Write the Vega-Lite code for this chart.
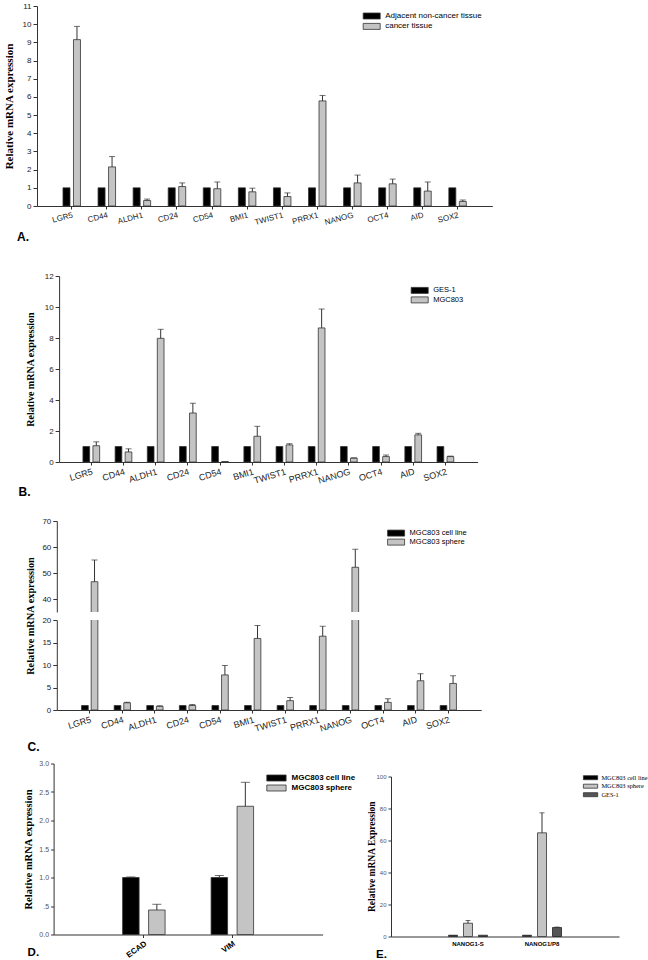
{
  "$schema": "https://vega.github.io/schema/vega-lite/v6.json",
  "autosize": {"type": "pad"},
  "padding": {"left": 3, "top": 2, "right": 0, "bottom": 0},
  "config": {
    "view": {"stroke": null},
    "font": "Liberation Sans",
    "axis": {"grid": false, "domainColor": "#333", "tickColor": "#333", "labelColor": "#222", "labelFont": "Liberation Sans", "labelFontSize": 8, "titleFont": "Liberation Serif", "titleFontWeight": "bold", "titleColor": "#000", "tickSize": 4, "labelPadding": 2, "labelFlush": false, "labelOverlap": false, "labelBound": false},
    "legend": {"labelFont": "Liberation Sans", "labelColor": "#000", "padding": 0, "symbolOpacity": 1},
    "title": {"font": "Liberation Sans", "fontWeight": "bold", "fontSize": 12, "orient": "bottom", "anchor": "start", "frame": "bounds", "color": "#000"}
  },
  "datasets": {
    "dA": [
      {"gene": "LGR5", "group": "Adjacent non-cancer tissue", "value": 1}, {"gene": "LGR5", "group": "cancer tissue", "value": 9.15, "upper": 9.88},
      {"gene": "CD44", "group": "Adjacent non-cancer tissue", "value": 1}, {"gene": "CD44", "group": "cancer tissue", "value": 2.15, "upper": 2.72},
      {"gene": "ALDH1", "group": "Adjacent non-cancer tissue", "value": 1}, {"gene": "ALDH1", "group": "cancer tissue", "value": 0.3, "upper": 0.38},
      {"gene": "CD24", "group": "Adjacent non-cancer tissue", "value": 1}, {"gene": "CD24", "group": "cancer tissue", "value": 1.07, "upper": 1.27},
      {"gene": "CD54", "group": "Adjacent non-cancer tissue", "value": 1}, {"gene": "CD54", "group": "cancer tissue", "value": 0.95, "upper": 1.32},
      {"gene": "BMI1", "group": "Adjacent non-cancer tissue", "value": 1}, {"gene": "BMI1", "group": "cancer tissue", "value": 0.78, "upper": 0.98},
      {"gene": "TWIST1", "group": "Adjacent non-cancer tissue", "value": 1}, {"gene": "TWIST1", "group": "cancer tissue", "value": 0.52, "upper": 0.72},
      {"gene": "PRRX1", "group": "Adjacent non-cancer tissue", "value": 1}, {"gene": "PRRX1", "group": "cancer tissue", "value": 5.78, "upper": 6.08},
      {"gene": "NANOG", "group": "Adjacent non-cancer tissue", "value": 1}, {"gene": "NANOG", "group": "cancer tissue", "value": 1.27, "upper": 1.7},
      {"gene": "OCT4", "group": "Adjacent non-cancer tissue", "value": 1}, {"gene": "OCT4", "group": "cancer tissue", "value": 1.22, "upper": 1.48},
      {"gene": "AID", "group": "Adjacent non-cancer tissue", "value": 1}, {"gene": "AID", "group": "cancer tissue", "value": 0.82, "upper": 1.32},
      {"gene": "SOX2", "group": "Adjacent non-cancer tissue", "value": 1}, {"gene": "SOX2", "group": "cancer tissue", "value": 0.25, "upper": 0.33}
    ],
    "dB": [
      {"gene": "LGR5", "group": "GES-1", "value": 1}, {"gene": "LGR5", "group": "MGC803", "value": 1.05, "upper": 1.3},
      {"gene": "CD44", "group": "GES-1", "value": 1}, {"gene": "CD44", "group": "MGC803", "value": 0.65, "upper": 0.85},
      {"gene": "ALDH1", "group": "GES-1", "value": 1}, {"gene": "ALDH1", "group": "MGC803", "value": 7.98, "upper": 8.56},
      {"gene": "CD24", "group": "GES-1", "value": 1}, {"gene": "CD24", "group": "MGC803", "value": 3.16, "upper": 3.79},
      {"gene": "CD54", "group": "GES-1", "value": 1}, {"gene": "CD54", "group": "MGC803", "value": 0.03},
      {"gene": "BMI1", "group": "GES-1", "value": 1}, {"gene": "BMI1", "group": "MGC803", "value": 1.66, "upper": 2.3},
      {"gene": "TWIST1", "group": "GES-1", "value": 1}, {"gene": "TWIST1", "group": "MGC803", "value": 1.1, "upper": 1.18},
      {"gene": "PRRX1", "group": "GES-1", "value": 1}, {"gene": "PRRX1", "group": "MGC803", "value": 8.65, "upper": 9.87},
      {"gene": "NANOG", "group": "GES-1", "value": 1}, {"gene": "NANOG", "group": "MGC803", "value": 0.25, "upper": 0.27},
      {"gene": "OCT4", "group": "GES-1", "value": 1}, {"gene": "OCT4", "group": "MGC803", "value": 0.35, "upper": 0.45},
      {"gene": "AID", "group": "GES-1", "value": 1}, {"gene": "AID", "group": "MGC803", "value": 1.75, "upper": 1.85},
      {"gene": "SOX2", "group": "GES-1", "value": 1}, {"gene": "SOX2", "group": "MGC803", "value": 0.35, "upper": 0.38}
    ],
    "dC": [
      {"gene": "LGR5", "group": "MGC803 cell line", "value": 1}, {"gene": "LGR5", "group": "MGC803 sphere", "value": 46.65, "upper": 55.0},
      {"gene": "CD44", "group": "MGC803 cell line", "value": 1}, {"gene": "CD44", "group": "MGC803 sphere", "value": 1.6, "upper": 1.75},
      {"gene": "ALDH1", "group": "MGC803 cell line", "value": 1}, {"gene": "ALDH1", "group": "MGC803 sphere", "value": 0.8, "upper": 0.95},
      {"gene": "CD24", "group": "MGC803 cell line", "value": 1}, {"gene": "CD24", "group": "MGC803 sphere", "value": 1.0, "upper": 1.2},
      {"gene": "CD54", "group": "MGC803 cell line", "value": 1}, {"gene": "CD54", "group": "MGC803 sphere", "value": 7.8, "upper": 9.9},
      {"gene": "BMI1", "group": "MGC803 cell line", "value": 1}, {"gene": "BMI1", "group": "MGC803 sphere", "value": 15.9, "upper": 18.8},
      {"gene": "TWIST1", "group": "MGC803 cell line", "value": 1}, {"gene": "TWIST1", "group": "MGC803 sphere", "value": 2.07, "upper": 2.8},
      {"gene": "PRRX1", "group": "MGC803 cell line", "value": 1}, {"gene": "PRRX1", "group": "MGC803 sphere", "value": 16.4, "upper": 18.6},
      {"gene": "NANOG", "group": "MGC803 cell line", "value": 1}, {"gene": "NANOG", "group": "MGC803 sphere", "value": 52.2, "upper": 59.1},
      {"gene": "OCT4", "group": "MGC803 cell line", "value": 1}, {"gene": "OCT4", "group": "MGC803 sphere", "value": 1.7, "upper": 2.5},
      {"gene": "AID", "group": "MGC803 cell line", "value": 1}, {"gene": "AID", "group": "MGC803 sphere", "value": 6.5, "upper": 8.07},
      {"gene": "SOX2", "group": "MGC803 cell line", "value": 1}, {"gene": "SOX2", "group": "MGC803 sphere", "value": 5.9, "upper": 7.6}
    ],
    "dD": [
      {"gene": "ECAD", "group": "MGC803 cell line", "value": 1.0, "upper": 1.01}, {"gene": "ECAD", "group": "MGC803 sphere", "value": 0.43, "upper": 0.53},
      {"gene": "VIM", "group": "MGC803 cell line", "value": 1.0, "upper": 1.035}, {"gene": "VIM", "group": "MGC803 sphere", "value": 2.25, "upper": 2.67}
    ],
    "dE": [
      {"gene": "NANOG1-S", "group": "MGC803 cell line", "value": 0.8}, {"gene": "NANOG1-S", "group": "MGC803 sphere", "value": 8.3, "upper": 10.0}, {"gene": "NANOG1-S", "group": "GES-1", "value": 0.8},
      {"gene": "NANOG1/P8", "group": "MGC803 cell line", "value": 0.8}, {"gene": "NANOG1/P8", "group": "MGC803 sphere", "value": 64.8, "upper": 77.3}, {"gene": "NANOG1/P8", "group": "GES-1", "value": 5.6, "upper": 5.9}
    ]
  },
  "resolve": {"scale": {"color": "independent"}, "legend": {"color": "independent"}},
  "spacing": 28,
  "vconcat": [
    {
      "width": 455.3, "height": 200,
      "data": {"name": "dA"},
      "title": {"text": "A.", "offset": 6, "dx": 14},
      "encoding": {
        "x": {"field": "gene", "type": "nominal", "sort": null, "scale": {"type": "band", "paddingInner": 0, "paddingOuter": 0.49}, "axis": {"title": null, "labelAngle": -15, "labelFontSize": 8, "tickSize": 3}},
        "y": {"field": "value", "type": "quantitative", "scale": {"domain": [0, 11]}, "axis": {"values": [0,1,2,3,4,5,6,7,8,9,10,11], "title": "Relative mRNA expression", "titleFontSize": 11, "titleX": -28, "titleY": 100, "titleAngle": 270, "titleAlign": "center", "titleBaseline": "middle", "minExtent": 33.4, "maxExtent": 33.4}}
      },
      "layer": [
        {"transform": [{"filter": "datum.group == 'Adjacent non-cancer tissue'"}], "mark": {"type": "bar", "width": 7, "xOffset": -5.25, "stroke": "#333", "strokeWidth": 0.8},
         "encoding": {"color": {"field": "group", "type": "nominal", "scale": {"domain": ["Adjacent non-cancer tissue", "cancer tissue"], "range": ["#000000", "#c4c4c4"]}, "legend": {"title": null, "orient": "none", "legendX": 330.7, "legendY": 6, "symbolType": "M-2.5,-0.882H2.5V0.882H-2.5Z", "symbolSize": 46.24, "labelOffset": 9.5, "labelFontSize": 8, "rowPadding": 0.4, "symbolStrokeColor": "#333", "symbolStrokeWidth": 0.8}}}},
        {"transform": [{"filter": "datum.group == 'cancer tissue'"}], "mark": {"type": "bar", "width": 7, "xOffset": 5.25, "stroke": "#333", "strokeWidth": 0.8},
         "encoding": {"color": {"field": "group", "type": "nominal", "scale": {"domain": ["Adjacent non-cancer tissue", "cancer tissue"], "range": ["#000000", "#c4c4c4"]}, "legend": {"title": null, "orient": "none", "legendX": 330.7, "legendY": 6, "symbolType": "M-2.5,-0.882H2.5V0.882H-2.5Z", "symbolSize": 46.24, "labelOffset": 9.5, "labelFontSize": 8, "rowPadding": 0.4, "symbolStrokeColor": "#333", "symbolStrokeWidth": 0.8}}}},
        {"transform": [{"filter": "datum.group == 'cancer tissue' && isValid(datum.upper)"}], "mark": {"type": "rule", "xOffset": 5.25, "color": "#333"}, "encoding": {"y2": {"field": "upper"}}},
        {"transform": [{"filter": "datum.group == 'cancer tissue' && isValid(datum.upper)"}], "mark": {"type": "tick", "xOffset": 5.25, "color": "#333", "thickness": 1, "size": 6}, "encoding": {"y": {"field": "upper", "type": "quantitative", "axis": {"values": [0,1,2,3,4,5,6,7,8,9,10,11], "title": "Relative mRNA expression", "titleFontSize": 11, "titleX": -28, "titleY": 100, "titleAngle": 270, "titleAlign": "center", "titleBaseline": "middle", "minExtent": 33.4, "maxExtent": 33.4}}}}
      ]
    },
    {
      "resolve": {"scale": {"color": "independent"}, "legend": {"color": "independent"}},
      "spacing": 18,
      "vconcat": [
        {
          "width": 440.6, "height": 186,
          "data": {"name": "dB"},
          "title": {"text": "B.", "offset": 2, "dx": 15},
          "encoding": {
            "x": {"field": "gene", "type": "nominal", "sort": null, "scale": {"type": "band", "range": [22.1, 440.6], "paddingInner": 0, "paddingOuter": 0.5}, "axis": {"title": null, "labelAngle": -17, "labelFontSize": 9, "tickSize": 3}},
            "y": {"field": "value", "type": "quantitative", "scale": {"domain": [0, 12]}, "axis": {"offset": -22.1, "values": [0,2,4,6,8,10,12], "title": "Relative mRNA expression", "titleFontSize": 10, "titleX": -28.5, "titleY": 93, "titleAngle": 270, "titleAlign": "center", "titleBaseline": "middle", "minExtent": 55.5, "maxExtent": 55.5}}
          },
          "layer": [
            {"transform": [{"filter": "datum.group == 'GES-1'"}], "mark": {"type": "bar", "width": 6.7, "xOffset": -5, "stroke": "#333", "strokeWidth": 0.8},
             "encoding": {"color": {"field": "group", "type": "nominal", "scale": {"domain": ["GES-1", "MGC803"], "range": ["#000000", "#c4c4c4"]}, "legend": {"title": null, "orient": "none", "legendX": 378.7, "legendY": 10.4, "symbolType": "M-2.5,-0.882H2.5V0.882H-2.5Z", "symbolSize": 46.24, "labelOffset": 9.5, "labelFontSize": 7.5, "rowPadding": -0.5, "symbolStrokeColor": "#333", "symbolStrokeWidth": 0.8}}}},
            {"transform": [{"filter": "datum.group == 'MGC803'"}], "mark": {"type": "bar", "width": 6.7, "xOffset": 5, "stroke": "#333", "strokeWidth": 0.8},
             "encoding": {"color": {"field": "group", "type": "nominal", "scale": {"domain": ["GES-1", "MGC803"], "range": ["#000000", "#c4c4c4"]}, "legend": {"title": null, "orient": "none", "legendX": 378.7, "legendY": 10.4, "symbolType": "M-2.5,-0.882H2.5V0.882H-2.5Z", "symbolSize": 46.24, "labelOffset": 9.5, "labelFontSize": 7.5, "rowPadding": -0.5, "symbolStrokeColor": "#333", "symbolStrokeWidth": 0.8}}}},
            {"transform": [{"filter": "datum.group == 'MGC803' && isValid(datum.upper)"}], "mark": {"type": "rule", "xOffset": 5, "color": "#333"}, "encoding": {"y2": {"field": "upper"}}},
            {"transform": [{"filter": "datum.group == 'MGC803' && isValid(datum.upper)"}], "mark": {"type": "tick", "xOffset": 5, "color": "#333", "thickness": 1, "size": 6}, "encoding": {"y": {"field": "upper", "type": "quantitative", "axis": {"offset": -22.1, "values": [0,2,4,6,8,10,12], "title": "Relative mRNA expression", "titleFontSize": 10, "titleX": -28.5, "titleY": 93, "titleAngle": 270, "titleAlign": "center", "titleBaseline": "middle", "minExtent": 55.5, "maxExtent": 55.5}}}}
          ]
        },
        {
          "resolve": {"scale": {"color": "independent"}, "legend": {"color": "independent"}},
          "spacing": 5.5,
          "vconcat": [
            {
              "resolve": {"scale": {"color": "independent"}, "legend": {"color": "independent"}},
              "bounds": "flush",
              "spacing": 8,
              "vconcat": [
                {
                  "width": 444.2, "height": 91,
                  "data": {"name": "dC"},
                  "encoding": {
                    "x": {"field": "gene", "type": "nominal", "sort": null, "scale": {"type": "band", "range": [19.8, 444.2], "paddingInner": 0, "paddingOuter": 0.51}, "axis": null},
                    "y": {"field": "value", "type": "quantitative", "scale": {"domain": [35, 70], "zero": false}, "axis": {"offset": -19.8, "values": [40,50,60,70], "title": null, "minExtent": 53.2, "maxExtent": 53.2}}
                  },
                  "layer": [
                    {"transform": [{"filter": "datum.group == 'MGC803 cell line'"}], "mark": {"type": "bar", "width": 6.7, "xOffset": -4.8, "stroke": "#333", "strokeWidth": 0.8, "clip": true},
                     "encoding": {"color": {"field": "group", "type": "nominal", "scale": {"domain": ["MGC803 cell line", "MGC803 sphere"], "range": ["#000000", "#c4c4c4"]}, "legend": {"title": null, "orient": "none", "legendX": 355.1, "legendY": 8.1, "symbolType": "M-2.5,-0.882H2.5V0.882H-2.5Z", "symbolSize": 46.24, "labelOffset": 9.5, "labelFontSize": 7.5, "rowPadding": -1.9, "symbolStrokeColor": "#333", "symbolStrokeWidth": 0.8}}}},
                    {"transform": [{"filter": "datum.group == 'MGC803 sphere'"}], "mark": {"type": "bar", "width": 6.7, "xOffset": 4.8, "stroke": "#333", "strokeWidth": 0.8, "clip": true},
                     "encoding": {"color": {"field": "group", "type": "nominal", "scale": {"domain": ["MGC803 cell line", "MGC803 sphere"], "range": ["#000000", "#c4c4c4"]}, "legend": {"title": null, "orient": "none", "legendX": 355.1, "legendY": 8.1, "symbolType": "M-2.5,-0.882H2.5V0.882H-2.5Z", "symbolSize": 46.24, "labelOffset": 9.5, "labelFontSize": 7.5, "rowPadding": -1.9, "symbolStrokeColor": "#333", "symbolStrokeWidth": 0.8}}}},
                    {"transform": [{"filter": "datum.group == 'MGC803 sphere' && isValid(datum.upper)"}], "mark": {"type": "rule", "xOffset": 4.8, "color": "#333", "clip": true}, "encoding": {"y2": {"field": "upper"}}},
                    {"transform": [{"filter": "datum.group == 'MGC803 sphere' && isValid(datum.upper)"}], "mark": {"type": "tick", "xOffset": 4.8, "color": "#333", "thickness": 1, "size": 6, "clip": true}, "encoding": {"y": {"field": "upper", "type": "quantitative", "axis": {"offset": -19.8, "values": [40,50,60,70], "title": null, "minExtent": 53.2, "maxExtent": 53.2}}}}
                  ]
                },
                {
                  "width": 444.2, "height": 90,
                  "data": {"name": "dC"},
                  "title": {"text": "C.", "offset": 9, "dx": 24},
                  "encoding": {
                    "x": {"field": "gene", "type": "nominal", "sort": null, "scale": {"type": "band", "range": [19.8, 444.2], "paddingInner": 0, "paddingOuter": 0.51}, "axis": {"title": null, "labelAngle": -17, "labelFontSize": 9, "tickSize": 3}},
                    "y": {"field": "value", "type": "quantitative", "scale": {"domain": [0, 20]}, "axis": {"offset": -19.8, "values": [0,5,10,15,20], "title": "Relative mRNA expression", "titleFontSize": 10.3, "titleX": -26.2, "titleY": -4.5, "titleAngle": 270, "titleAlign": "center", "titleBaseline": "middle", "minExtent": 53.2, "maxExtent": 53.2}}
                  },
                  "layer": [
                    {"transform": [{"filter": "datum.group == 'MGC803 cell line'"}], "mark": {"type": "bar", "width": 6.7, "xOffset": -4.8, "stroke": "#333", "strokeWidth": 0.8, "clip": true},
                     "encoding": {"color": {"field": "group", "type": "nominal", "scale": {"domain": ["MGC803 cell line", "MGC803 sphere"], "range": ["#000000", "#c4c4c4"]}, "legend": null}}},
                    {"transform": [{"filter": "datum.group == 'MGC803 sphere'"}], "mark": {"type": "bar", "width": 6.7, "xOffset": 4.8, "stroke": "#333", "strokeWidth": 0.8, "clip": true},
                     "encoding": {"color": {"field": "group", "type": "nominal", "scale": {"domain": ["MGC803 cell line", "MGC803 sphere"], "range": ["#000000", "#c4c4c4"]}, "legend": null}}},
                    {"transform": [{"filter": "datum.group == 'MGC803 sphere' && isValid(datum.upper)"}], "mark": {"type": "rule", "xOffset": 4.8, "color": "#333", "clip": true}, "encoding": {"y2": {"field": "upper"}}},
                    {"transform": [{"filter": "datum.group == 'MGC803 sphere' && isValid(datum.upper)"}], "mark": {"type": "tick", "xOffset": 4.8, "color": "#333", "thickness": 1, "size": 6, "clip": true}, "encoding": {"y": {"field": "upper", "type": "quantitative", "axis": {"offset": -19.8, "values": [0,5,10,15,20], "title": "Relative mRNA expression", "titleFontSize": 10.3, "titleX": -26.2, "titleY": -4.5, "titleAngle": 270, "titleAlign": "center", "titleBaseline": "middle", "minExtent": 53.2, "maxExtent": 53.2}}}}
                  ]
                }
              ]
            },
            {
              "resolve": {"scale": {"color": "independent"}, "legend": {"color": "independent"}},
              "bounds": "flush",
              "spacing": 68,
              "hconcat": [
                {
                  "width": 285.6, "height": 171,
                  "data": {"name": "dD"},
                  "title": {"text": "D.", "offset": -12, "dx": 24, "fontSize": 11.5},
                  "encoding": {
                    "x": {"field": "gene", "type": "nominal", "sort": null, "scale": {"type": "band", "range": [16.6, 285.6], "paddingInner": 0, "paddingOuter": 0.52}, "axis": {"title": null, "labelAngle": -35, "labelFontSize": 8, "labelFontWeight": "bold", "labelColor": "#000", "tickSize": 3}},
                    "y": {"field": "value", "type": "quantitative", "scale": {"domain": [0, 3]}, "axis": {"offset": -16.6, "values": [0,0.5,1,1.5,2,2.5,3], "labelExpr": "datum.value == 0 ? '0.0' : datum.value == 0.5 ? '.5' : format(datum.value, '.1f')", "labelFontSize": 7, "labelColor": "#555", "tickSize": 3, "title": "Relative mRNA expression", "titleFontSize": 10.5, "titleX": -24.7, "titleY": 85.5, "titleAngle": 270, "titleAlign": "center", "titleBaseline": "middle", "minExtent": 50, "maxExtent": 50}}
                  },
                  "layer": [
                    {"transform": [{"filter": "datum.group == 'MGC803 cell line'"}], "mark": {"type": "bar", "width": 16.5, "xOffset": -13, "stroke": "#333", "strokeWidth": 0.8},
                     "encoding": {"color": {"field": "group", "type": "nominal", "scale": {"domain": ["MGC803 cell line", "MGC803 sphere"], "range": ["#000000", "#c4c4c4"]}, "legend": {"title": null, "orient": "none", "legendX": 235.45, "legendY": 10.5, "symbolType": "M-2.757,-0.857H2.757V0.857H-2.757Z", "symbolSize": 49, "labelOffset": 11.15, "labelFontSize": 8, "labelFontWeight": "bold", "rowPadding": 0, "symbolStrokeColor": "#333", "symbolStrokeWidth": 0.8}}}},
                    {"transform": [{"filter": "datum.group == 'MGC803 sphere'"}], "mark": {"type": "bar", "width": 16.5, "xOffset": 13, "stroke": "#333", "strokeWidth": 0.8},
                     "encoding": {"color": {"field": "group", "type": "nominal", "scale": {"domain": ["MGC803 cell line", "MGC803 sphere"], "range": ["#000000", "#c4c4c4"]}, "legend": {"title": null, "orient": "none", "legendX": 235.45, "legendY": 10.5, "symbolType": "M-2.757,-0.857H2.757V0.857H-2.757Z", "symbolSize": 49, "labelOffset": 11.15, "labelFontSize": 8, "labelFontWeight": "bold", "rowPadding": 0, "symbolStrokeColor": "#333", "symbolStrokeWidth": 0.8}}}},
                    {"transform": [{"filter": "datum.group == 'MGC803 cell line' && isValid(datum.upper)"}], "mark": {"type": "rule", "xOffset": -13, "color": "#333"}, "encoding": {"y2": {"field": "upper"}}},
                    {"transform": [{"filter": "datum.group == 'MGC803 cell line' && isValid(datum.upper)"}], "mark": {"type": "tick", "xOffset": -13, "color": "#333", "thickness": 1, "size": 9}, "encoding": {"y": {"field": "upper", "type": "quantitative", "axis": {"offset": -16.6, "values": [0,0.5,1,1.5,2,2.5,3], "labelExpr": "datum.value == 0 ? '0.0' : datum.value == 0.5 ? '.5' : format(datum.value, '.1f')", "labelFontSize": 7, "labelColor": "#555", "tickSize": 3, "title": "Relative mRNA expression", "titleFontSize": 10.5, "titleX": -24.7, "titleY": 85.5, "titleAngle": 270, "titleAlign": "center", "titleBaseline": "middle", "minExtent": 50, "maxExtent": 50}}}},
                    {"transform": [{"filter": "datum.group == 'MGC803 sphere' && isValid(datum.upper)"}], "mark": {"type": "rule", "xOffset": 13, "color": "#333"}, "encoding": {"y2": {"field": "upper"}}},
                    {"transform": [{"filter": "datum.group == 'MGC803 sphere' && isValid(datum.upper)"}], "mark": {"type": "tick", "xOffset": 13, "color": "#333", "thickness": 1, "size": 9}, "encoding": {"y": {"field": "upper", "type": "quantitative", "axis": {"offset": -16.6, "values": [0,0.5,1,1.5,2,2.5,3], "labelExpr": "datum.value == 0 ? '0.0' : datum.value == 0.5 ? '.5' : format(datum.value, '.1f')", "labelFontSize": 7, "labelColor": "#555", "tickSize": 3, "title": "Relative mRNA expression", "titleFontSize": 10.5, "titleX": -24.7, "titleY": 85.5, "titleAngle": 270, "titleAlign": "center", "titleBaseline": "middle", "minExtent": 50, "maxExtent": 50}}}}
                  ]
                },
                {
                  "width": 228, "height": 173,
                  "data": {"name": "dE"},
                  "title": {"text": "E.", "offset": 2, "dx": 10, "fontSize": 11.5},
                  "encoding": {
                    "x": {"field": "gene", "type": "nominal", "sort": null, "scale": {"type": "band", "paddingInner": 0, "paddingOuter": 0.54}, "axis": {"title": null, "labelAngle": 0, "labelFontSize": 6, "labelFontWeight": "bold", "labelColor": "#000", "tickSize": 0, "labelPadding": 4}},
                    "y": {"field": "value", "type": "quantitative", "scale": {"domain": [0, 100], "range": [173, 13]}, "axis": {"values": [0,20,40,60,80,100], "labelFontSize": 6, "labelColor": "#555", "tickSize": 3, "title": "Relative mRNA Expression", "titleFontSize": 9.5, "titleX": -20, "titleY": 92.7, "titleAngle": 270, "titleAlign": "center", "titleBaseline": "middle", "minExtent": 25, "maxExtent": 25}}
                  },
                  "layer": [
                    {"transform": [{"filter": "datum.group == 'MGC803 cell line'"}], "mark": {"type": "bar", "width": 9, "xOffset": -15, "stroke": "#333", "strokeWidth": 0.8},
                     "encoding": {"color": {"field": "group", "type": "nominal", "scale": {"domain": ["MGC803 cell line", "MGC803 sphere", "GES-1"], "range": ["#000000", "#c4c4c4", "#555555"]}, "legend": {"title": null, "orient": "none", "legendX": 196.35, "legendY": 11, "symbolType": "M-2.86,-0.8H2.86V0.8H-2.86Z", "symbolSize": 25, "labelOffset": 7.65, "labelFont": "Liberation Serif", "labelFontSize": 6.4, "rowPadding": 0.5, "symbolStrokeColor": "#333", "symbolStrokeWidth": 0.8}}}},
                    {"transform": [{"filter": "datum.group == 'MGC803 sphere'"}], "mark": {"type": "bar", "width": 9, "xOffset": 0, "stroke": "#333", "strokeWidth": 0.8},
                     "encoding": {"color": {"field": "group", "type": "nominal", "scale": {"domain": ["MGC803 cell line", "MGC803 sphere", "GES-1"], "range": ["#000000", "#c4c4c4", "#555555"]}, "legend": {"title": null, "orient": "none", "legendX": 196.35, "legendY": 11, "symbolType": "M-2.86,-0.8H2.86V0.8H-2.86Z", "symbolSize": 25, "labelOffset": 7.65, "labelFont": "Liberation Serif", "labelFontSize": 6.4, "rowPadding": 0.5, "symbolStrokeColor": "#333", "symbolStrokeWidth": 0.8}}}},
                    {"transform": [{"filter": "datum.group == 'GES-1'"}], "mark": {"type": "bar", "width": 9, "xOffset": 15, "stroke": "#222", "strokeWidth": 0.8},
                     "encoding": {"color": {"field": "group", "type": "nominal", "scale": {"domain": ["MGC803 cell line", "MGC803 sphere", "GES-1"], "range": ["#000000", "#c4c4c4", "#555555"]}, "legend": {"title": null, "orient": "none", "legendX": 196.35, "legendY": 11, "symbolType": "M-2.86,-0.8H2.86V0.8H-2.86Z", "symbolSize": 25, "labelOffset": 7.65, "labelFont": "Liberation Serif", "labelFontSize": 6.4, "rowPadding": 0.5, "symbolStrokeColor": "#333", "symbolStrokeWidth": 0.8}}}},
                    {"transform": [{"filter": "datum.group == 'MGC803 sphere' && isValid(datum.upper)"}], "mark": {"type": "rule", "xOffset": 0, "color": "#333"}, "encoding": {"y2": {"field": "upper"}}},
                    {"transform": [{"filter": "datum.group == 'MGC803 sphere' && isValid(datum.upper)"}], "mark": {"type": "tick", "xOffset": 0, "color": "#333", "thickness": 1, "size": 5}, "encoding": {"y": {"field": "upper", "type": "quantitative", "axis": {"values": [0,20,40,60,80,100], "labelFontSize": 6, "labelColor": "#555", "tickSize": 3, "title": "Relative mRNA Expression", "titleFontSize": 9.5, "titleX": -20, "titleY": 92.7, "titleAngle": 270, "titleAlign": "center", "titleBaseline": "middle", "minExtent": 25, "maxExtent": 25}}}},
                    {"transform": [{"filter": "datum.group == 'GES-1' && isValid(datum.upper)"}], "mark": {"type": "rule", "xOffset": 15, "color": "#333"}, "encoding": {"y2": {"field": "upper"}}},
                    {"transform": [{"filter": "datum.group == 'GES-1' && isValid(datum.upper)"}], "mark": {"type": "tick", "xOffset": 15, "color": "#333", "thickness": 1, "size": 5}, "encoding": {"y": {"field": "upper", "type": "quantitative", "axis": {"values": [0,20,40,60,80,100], "labelFontSize": 6, "labelColor": "#555", "tickSize": 3, "title": "Relative mRNA Expression", "titleFontSize": 9.5, "titleX": -20, "titleY": 92.7, "titleAngle": 270, "titleAlign": "center", "titleBaseline": "middle", "minExtent": 25, "maxExtent": 25}}}}
                  ]
                }
              ]
            }
          ]
        }
      ]
    }
  ]
}
